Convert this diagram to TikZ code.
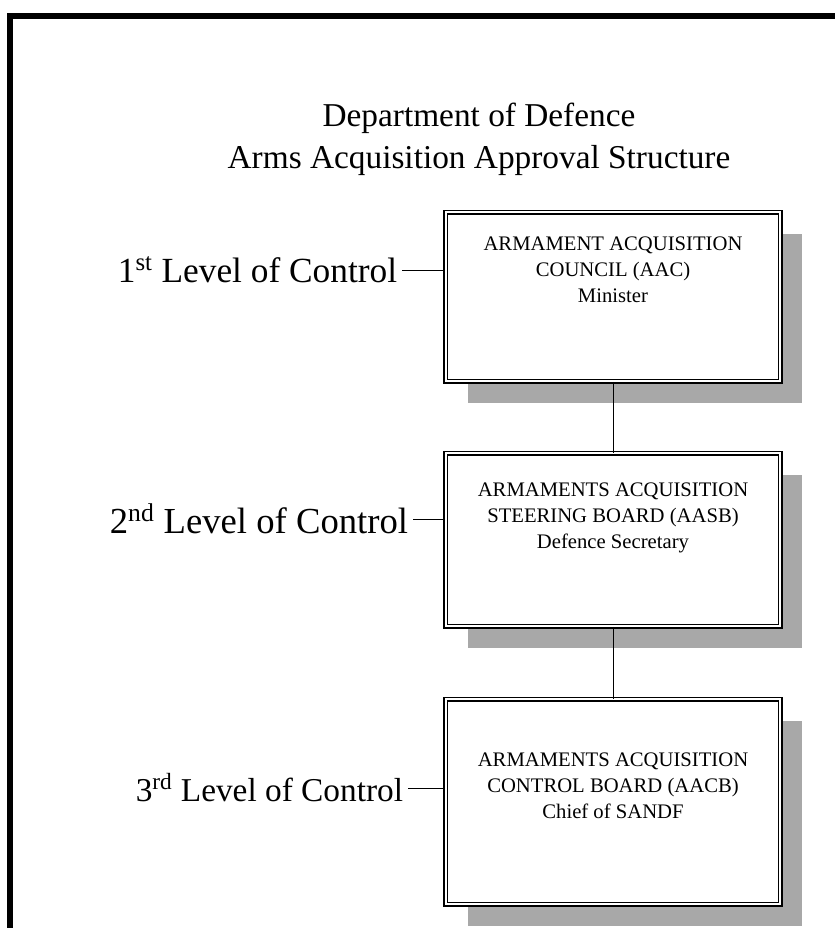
\documentclass[tikz,border=0pt]{standalone}
\usepackage{fontspec}
\setmainfont{Liberation Serif}
\usetikzlibrary{shadows}

\begin{document}
\begin{tikzpicture}[x=0.75pt, y=-0.75pt,
    board/.style={draw, double, double distance=1.5pt, line width=1.1pt, fill=white,
      minimum width=251pt, inner sep=0pt, anchor=north,
      drop shadow={shadow xshift=16.5pt, shadow yshift=-16.5pt, fill=black!34, opacity=1}},
    boardtext/.style={align=center, inner sep=0pt, font=\fontsize{15.5}{19.5}\selectfont},
    level/.style={anchor=east, inner xsep=3.5pt, inner ysep=1.5pt},
    link/.style={line width=0.7pt}]
    \useasboundingbox (0,0) rectangle (835,928);
    \draw[line width=4.8pt] (10,960) -- (10,16) -- (860,16);
    \node[align=center, font=\fontsize{25}{31.5}\selectfont] (title) at (479,139) {Department of Defence\\Arms Acquisition Approval Structure};
    \node[board, minimum height=126.75pt] (aac) at (613,211.5) {};
    \node[board, minimum height=129.75pt] (aasb) at (613,452.5) {};
    \node[board, minimum height=153.75pt] (aacb) at (613,698.5) {};
    \node[boardtext] (aactxt) at (613,270) {ARMAMENT ACQUISITION\\COUNCIL (AAC)\\Minister};
    \node[boardtext] (aasbtxt) at (613,518) {ARMAMENTS ACQUISITION\\STEERING BOARD (AASB)\\Defence Secretary};
    \node[boardtext] (aacbtxt) at (613,786) {ARMAMENTS ACQUISITION\\CONTROL BOARD (AACB)\\Chief of SANDF};
    \node[level, font=\fontsize{26.5}{30}\selectfont] (lvl1) at (402,270) {1\textsuperscript{st} Level of Control};
    \node[level, font=\fontsize{27.5}{30}\selectfont] (lvl2) at (413,519) {2\textsuperscript{nd} Level of Control};
    \node[level, font=\fontsize{25}{30}\selectfont] (lvl3) at (408,788) {3\textsuperscript{rd} Level of Control};
    \draw[link] (lvl1.east) -- (lvl1.east -| aac.west);
    \draw[link] (lvl2.east) -- (lvl2.east -| aasb.west);
    \draw[link] (lvl3.east) -- (lvl3.east -| aacb.west);
    \draw[link] (aac.south) -- (aasb.north);
    \draw[link] (aasb.south) -- (aacb.north);
\end{tikzpicture}
\end{document}
